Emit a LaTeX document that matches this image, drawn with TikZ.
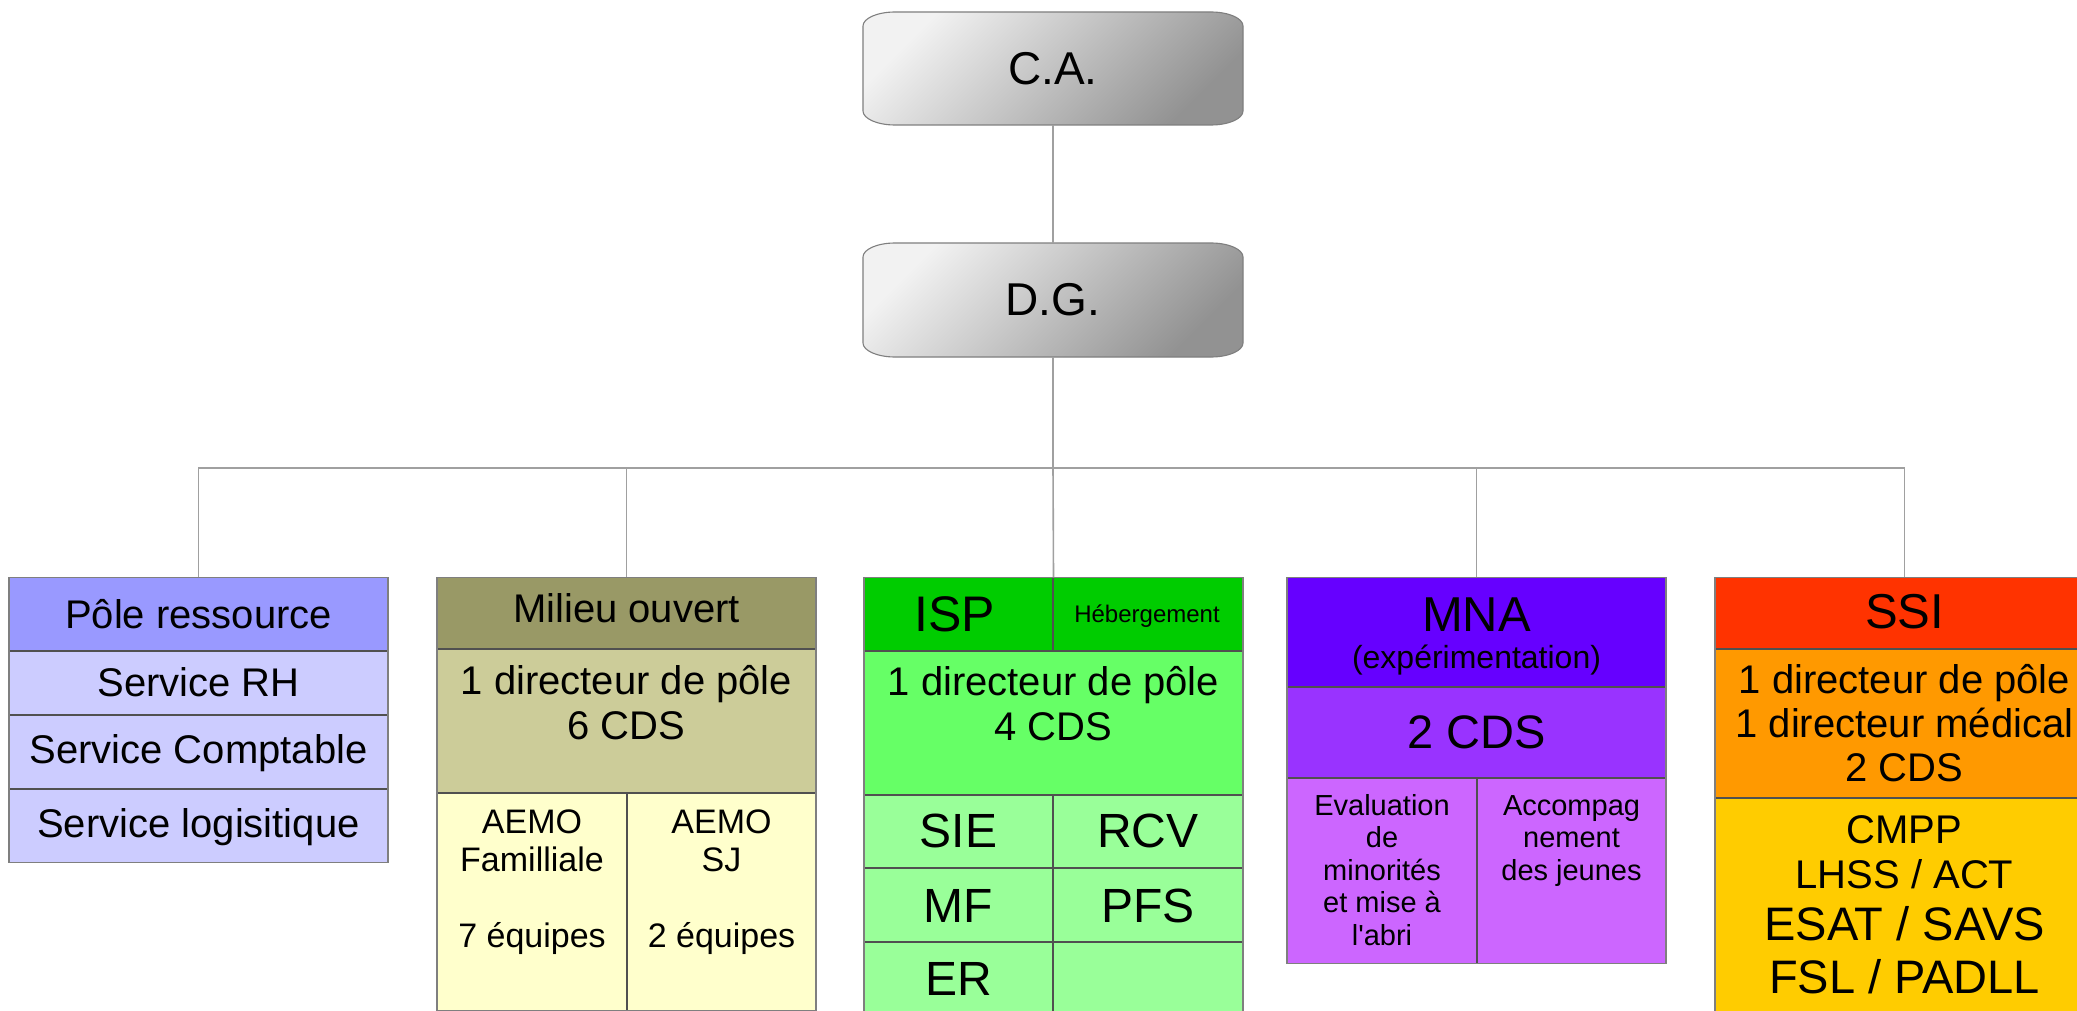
\documentclass[tikz,border=0pt]{standalone}
\usepackage{fontspec}
\setmainfont{Liberation Sans}
\newcommand\fsz[2]{\fontsize{#1}{#2}\selectfont}
\definecolor{linegray}{HTML}{A0A0A0}
\definecolor{outergray}{HTML}{7F7F7F}
\definecolor{innergray}{HTML}{505050}
\definecolor{resH}{HTML}{9999FF}
\definecolor{resB}{HTML}{CCCCFF}
\definecolor{moH}{HTML}{999966}
\definecolor{moM}{HTML}{CCCC99}
\definecolor{moB}{HTML}{FFFFCC}
\definecolor{ispH}{HTML}{00CC00}
\definecolor{ispM}{HTML}{66FF66}
\definecolor{ispB}{HTML}{99FF99}
\definecolor{mnaH}{HTML}{6600FF}
\definecolor{mnaM}{HTML}{9933FF}
\definecolor{mnaB}{HTML}{CC66FF}
\definecolor{ssiH}{HTML}{FF3300}
\definecolor{ssiM}{HTML}{FF9900}
\definecolor{ssiB}{HTML}{FFCC00}
\definecolor{gradA}{HTML}{F2F2F2}
\definecolor{gradB}{HTML}{DCDCDC}
\definecolor{gradC}{HTML}{929292}
\begin{document}
\begin{tikzpicture}[x=1pt,y=-1pt,
  conn/.style={draw=linegray,line width=1.6pt},
  sep/.style={draw=innergray,line width=1.1pt},
  pole/.style={draw=outergray,line width=1.1pt,rectangle,inner sep=0pt,anchor=north,minimum width=379pt},
  txt/.style={inner sep=0pt,anchor=base,align=center},
  topbox/.style={rectangle,inner sep=0pt,minimum width=380pt,minimum height=113pt},
  grad/.style={top color=gradA,middle color=gradB,bottom color=gradC,shading angle=45,draw=outergray,line width=1.1pt}
  ]
\useasboundingbox (0,0) rectangle (2077,1011);
\clip (0,0) rectangle (2077,1011);
\fill[white] (0,0) rectangle (2077,1011);

% C.A. and D.G.
\shadedraw[grad] (895,12) -- (1211,12) .. controls (1228.7,12) and (1243,18.3) .. (1243,26) -- (1243,111) .. controls (1243,118.7) and (1228.7,125) .. (1211,125) -- (895,125) .. controls (877.3,125) and (863,118.7) .. (863,111) -- (863,26) .. controls (863,18.3) and (877.3,12) .. (895,12) -- cycle;
\node[topbox,font=\fsz{46}{51.4}] (ca) at (1053,68.5) {C.A.};
\shadedraw[grad] (895,243) -- (1211,243) .. controls (1228.7,243) and (1243,249.3) .. (1243,257) -- (1243,343) .. controls (1243,350.7) and (1228.7,357) .. (1211,357) -- (895,357) .. controls (877.3,357) and (863,350.7) .. (863,343) -- (863,257) .. controls (863,249.3) and (877.3,243) .. (895,243) -- cycle;
\node[topbox,font=\fsz{46}{51.4}] (dg) at (1053,300) {D.G.};

% Pole ressource
\fill[resH] (9,577) rectangle (388,651);
\fill[resB] (9,651) rectangle (388,862);
\draw[sep] (9,651) -- (388,651) (9,715) -- (388,715) (9,789) -- (388,789);
\node[pole,minimum height=285pt] (pole1) at (198.5,577) {};
\node[txt,font=\fsz{40}{44.7}] (t1a) at (198.5,628) {Pôle ressource};
\node[txt,font=\fsz{40}{44.7}] (t1b) at (198.5,696) {Service RH};
\node[txt,font=\fsz{40}{44.7}] (t1c) at (198.5,763) {Service Comptable};
\node[txt,font=\fsz{40}{44.7}] (t1d) at (198.5,837) {Service logisitique};

% Milieu ouvert
\fill[moH] (437,577) rectangle (816,649);
\fill[moM] (437,649) rectangle (816,793);
\fill[moB] (437,793) rectangle (816,1010);
\draw[sep] (437,649) -- (816,649) (437,793) -- (816,793) (627,793) -- (627,1010);
\node[pole,minimum height=433pt] (pole2) at (626.5,577) {};
\node[txt,font=\fsz{40}{44.7}] (t2a) at (626.5,622) {Milieu ouvert};
\node[txt,font=\fsz{40}{44.7}] (t2b) at (626.5,739) {1 directeur de pôle\\6 CDS};
\node[txt,font=\fsz{34}{38}] (t2c) at (532,947) {AEMO\\Familliale\\[38pt]7 équipes};
\node[txt,font=\fsz{34}{38}] (t2d) at (721.5,947) {AEMO\\SJ\\[38pt]2 équipes};

% ISP
\fill[ispH] (864,577) rectangle (1243,651);
\fill[ispM] (864,651) rectangle (1243,795);
\fill[ispB] (864,795) rectangle (1243,1030);
\draw[sep] (1053,577) -- (1053,651) (864,651) -- (1243,651) (864,795) -- (1243,795)
  (864,868) -- (1243,868) (864,942) -- (1243,942) (1053,795) -- (1053,1030);
\node[pole,minimum height=453pt] (pole3) at (1053.5,577) {};
\node[txt,font=\fsz{50}{55.9}] (t3a) at (955,631) {ISP};
\node[txt,font=\fsz{24}{26.8}] (t3b) at (1147,622) {Hébergement};
\node[txt,font=\fsz{40}{44.7}] (t3c) at (1053.5,740) {1 directeur de pôle\\4 CDS};
\node[txt,font=\fsz{48}{53.6}] (t3d) at (958.5,847) {SIE};
\node[txt,font=\fsz{48}{53.6}] (t3e) at (1148,847) {RCV};
\node[txt,font=\fsz{48}{53.6}] (t3f) at (958.5,922) {MF};
\node[txt,font=\fsz{48}{53.6}] (t3g) at (1148,922) {PFS};
\node[txt,font=\fsz{48}{53.6}] (t3h) at (958.5,995) {ER};

% MNA
\fill[mnaH] (1287,577) rectangle (1666,687);
\fill[mnaM] (1287,687) rectangle (1666,778);
\fill[mnaB] (1287,778) rectangle (1666,963);
\draw[sep] (1287,687) -- (1666,687) (1287,778) -- (1666,778) (1477,778) -- (1477,963);
\node[pole,minimum height=386pt] (pole4) at (1476.5,577) {};
\node[txt,font=\fsz{49}{54.7}] (t4a) at (1476.5,631) {MNA};
\node[txt,font=\fsz{32}{35.7}] (t4b) at (1476.5,668) {(expérimentation)};
\node[txt,font=\fsz{47}{52.5}] (t4c) at (1476.5,748) {2 CDS};
\node[txt,font=\fsz{29}{32.4}] (t4d) at (1382,945) {Evaluation\\de\\minorités\\et mise à\\l\textquotesingle abri};
\node[txt,font=\fsz{29}{32.4}] (t4e) at (1571.5,880) {Accompag\\nement\\des jeunes};

% SSI
\fill[ssiH] (1715,577) rectangle (2094,649);
\fill[ssiM] (1715,649) rectangle (2094,798);
\fill[ssiB] (1715,798) rectangle (2094,1030);
\draw[sep] (1715,649) -- (2094,649) (1715,798) -- (2094,798);
\node[pole,minimum height=453pt] (pole5) at (1904.5,577) {};
\node[txt,font=\fsz{49}{54.7}] (t5a) at (1904.5,628) {SSI};
\node[txt,font=\fsz{40}{44}] (t5b) at (1904.5,781) {1 directeur de pôle\\1 directeur médical\\2 CDS};
\node[txt,font=\fsz{40}{45}] (t5c) at (1904.5,888) {CMPP\\LHSS / ACT};
\node[txt,font=\fsz{47}{53}] (t5d) at (1904.5,993) {ESAT / SAVS\\FSL / PADLL};

% connectors
\coordinate (bus) at (1053,467.7);
\draw[conn] (ca.south) -- (dg.north);
\draw[conn] (dg.south) -- (bus);
\draw[conn] (pole1.north) |- (bus);
\draw[conn] (pole2.north) |- (bus);
\draw[conn] (pole3.north) -- (bus);
\draw[conn] (pole4.north) |- (bus);
\draw[conn] (pole5.north) |- (bus);
\end{tikzpicture}
\end{document}
